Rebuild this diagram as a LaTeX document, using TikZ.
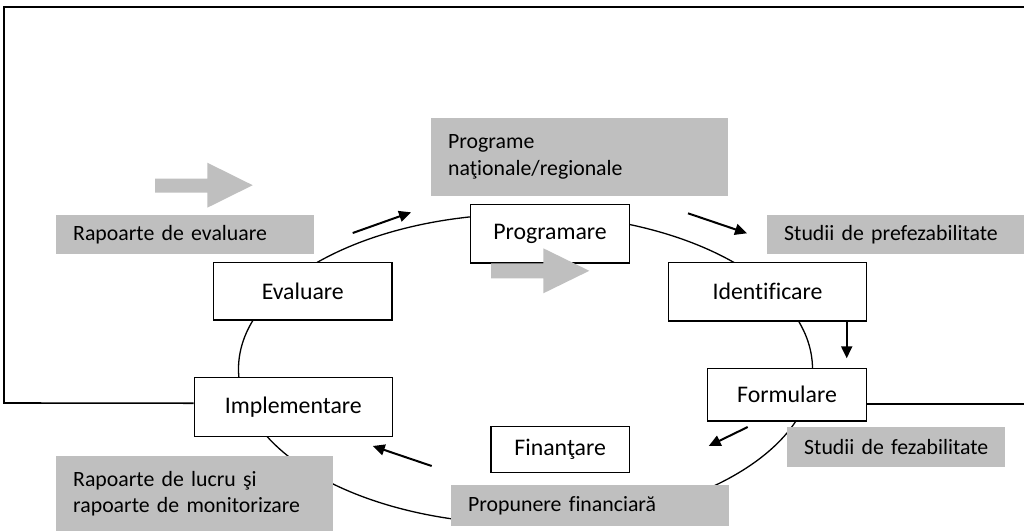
\documentclass[tikz,border=0pt]{standalone}
\usepackage{fontspec}
\setmainfont{Carlito}[Ligatures=NoCommon]
\usetikzlibrary{arrows.meta}
\definecolor{boxgrey}{RGB}{191,191,191}
\newcommand{\notepad}{\hspace*{17pt}}
\tikzset{
  stage/.style={draw=black, line width=1.4pt, fill=white, inner sep=0pt,
    font=\fontsize{23.8}{28}\selectfont},
  note/.style={fill=boxgrey, anchor=north west, inner xsep=0pt, inner ysep=0pt,
    align=left, font=\fontsize{21.8}{26.8}\selectfont},
  flow/.style={line width=2pt, -{Triangle[length=12pt,width=11pt]}},
  cycle line/.style={line width=1.3pt},
  frame line/.style={line width=1.6pt},
  bigarrow/.style={fill=boxgrey}
}
\begin{document}
\begin{tikzpicture}[x=1pt,y=-1pt]
\useasboundingbox (0,0) rectangle (1024,531);

% cycle ellipse
\draw[cycle line] (525.5,369) ellipse [x radius=287, y radius=155];

% stage boxes
\node[stage, minimum width=158.6pt, minimum height=58.7pt] (prog) at (550,233.7) {Programare};
\node[stage, minimum width=178.3pt, minimum height=57.7pt] (eval) at (302.8,291.2) {Evaluare};
\node[stage, minimum width=197.6pt, minimum height=58.7pt] (ident) at (767.5,291.7) {Identificare};
\node[stage, minimum width=158.6pt, minimum height=52.5pt] (form) at (787,394.8) {Formulare};
\node[stage, minimum width=198pt, minimum height=59pt] (impl) at (293.3,407.2) {Implementare};
\node[stage, minimum width=138.3pt, minimum height=46pt] (fin) at (560.2,449.7) {Finanţare};

% outer frame
\draw[frame line] ([yshift=4pt]impl.west) -- (4,403) -- (4,7) -- (1024,7);
\draw[frame line] ([yshift=-9.2pt]form.east) -- (1024,404);

% grey notes
\node[note, text width=296.7pt, minimum height=78.4pt] (nprog) at (431,117.3) {\notepad Programe\\\notepad naţionale/regionale};
\node[note, text width=258pt, minimum height=39.4pt] (neval) at (56,214.3) {\notepad Rapoarte de evaluare};
\node[note, text width=257pt, minimum height=39.4pt] (nident) at (767,214.3) {\notepad Studii de prefezabilitate};
\node[note, text width=276.7pt, minimum height=75pt] (nimpl) at (56,456) {\notepad Rapoarte de lucru şi\\\notepad rapoarte de monitorizare};
\node[note, text width=277.7pt, minimum height=40.3pt] (nfin) at (451,485) {\notepad Propunere financiară};
\node[note, text width=217.7pt, minimum height=39.7pt] (nform) at (787,427) {\notepad Studii de fezabilitate};

% grey block arrows
\fill[bigarrow] (155,178.7) -- (207.3,178.7) -- (207.3,162.7) -- (252.7,185.2)
  -- (207.3,207.7) -- (207.3,192.7) -- (155,192.7) -- cycle;
\fill[bigarrow] (491,263.3) -- (543.3,263.3) -- (543.3,248.3) -- (589.3,270.8)
  -- (543.3,293.3) -- (543.3,278.3) -- (491,278.3) -- cycle;

% black flow arrows
\coordinate (a1s) at (352.7,233);   \coordinate (a1e) at (411,212.3);
\coordinate (a2s) at (688,213.3);   \coordinate (a2e) at (747,233.3);
\coordinate (a3s) at (846.7,321);   \coordinate (a3e) at (846.7,358.3);
\coordinate (a4s) at (747.7,427);   \coordinate (a4e) at (708.7,446);
\coordinate (a5s) at (431.7,466);   \coordinate (a5e) at (372.7,446);
\draw[flow] (a1s) -- (a1e);
\draw[flow] (a2s) -- (a2e);
\draw[flow] (a3s) -- (a3e);
\draw[flow] (a4s) -- (a4e);
\draw[flow] (a5s) -- (a5e);
\end{tikzpicture}
\end{document}
